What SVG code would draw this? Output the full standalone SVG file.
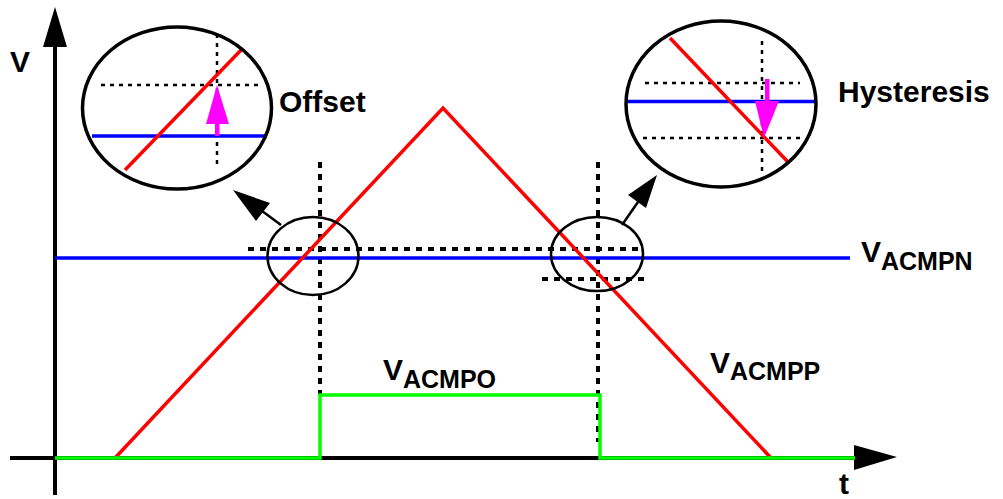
<svg xmlns="http://www.w3.org/2000/svg" width="1003" height="499" viewBox="0 0 1003 499">
<style>
.lbl{font-family:"Liberation Sans",Arial,sans-serif;font-weight:bold;fill:#000}
.big{font-size:30px}
.sub{font-size:25px}
.dot{stroke:#000;stroke-width:4;stroke-dasharray:6 6;fill:none}
.dots{stroke:#000;stroke-width:2.5;stroke-dasharray:4 5;fill:none}
.red{stroke:#ff0000;stroke-width:3.5;fill:none}
.blue{stroke:#0000ff;stroke-width:3.5;fill:none}
.green{stroke:#00ff00;stroke-width:3.5;fill:none}
.circ{stroke:#000;stroke-width:3.5;fill:none}
.ell{stroke:#000;stroke-width:2.5;fill:none}
</style>
<rect width="1003" height="499" fill="#fff"/>
<g id="axes">
<line x1="55" y1="45" x2="55" y2="495" stroke="#000" stroke-width="4"/>
<polygon points="55,7 43,47 67,47" fill="#000"/>
<line x1="10" y1="458" x2="856" y2="458" stroke="#000" stroke-width="4"/>
<polygon points="897,457 854,445 854,470" fill="#000"/>
<text class="lbl big" x="10" y="72">V</text>
<text class="lbl big" x="839" y="494">t</text>
</g>
<g id="guides">
<line class="dot" x1="320" y1="162" x2="320" y2="395"/>
<line class="dot" x1="598" y1="162" x2="598" y2="442"/>
<line class="dot" x1="248" y1="249" x2="644" y2="249"/>
<line class="dot" x1="542" y1="279" x2="646" y2="279"/>
</g>
<g id="signals">
<line class="blue" x1="55" y1="258" x2="850" y2="258"/>
<polyline class="red" points="115,458 443,108 771,458"/>
<polyline class="green" points="55,458 320,458 320,395 600,395 600,458 855,458"/>
</g>
<g id="zoom-left-small">
<ellipse class="ell" cx="313" cy="256" rx="45.5" ry="39"/>
</g>
<g id="zoom-right-small">
<ellipse class="ell" cx="597" cy="254" rx="46" ry="37"/>
</g>
<g id="connectors">
<line x1="281" y1="225" x2="258" y2="208" stroke="#000" stroke-width="2.5"/>
<polygon points="233,190 256,221 270,203" fill="#000"/>
<line x1="622" y1="225" x2="638" y2="202" stroke="#000" stroke-width="2.5"/>
<polygon points="657,175 628,195 646,208" fill="#000"/>
</g>
<g id="offset-detail">
<line class="dots" x1="217" y1="34" x2="217" y2="167"/>
<line class="dots" x1="101" y1="85" x2="258" y2="85"/>
<line class="blue" x1="92" y1="136" x2="265" y2="136"/>
<line class="red" x1="125" y1="170" x2="243" y2="48"/>
<rect x="215" y="122" width="4.5" height="14" fill="#ff00ff"/>
<polygon points="217,85 206,124 229,124" fill="#ff00ff"/>
<ellipse class="circ" cx="177" cy="108" rx="94.5" ry="81"/>
<text class="lbl big" x="279" y="112">Offset</text>
</g>
<g id="hysteresis-detail">
<line class="dots" x1="762" y1="41" x2="762" y2="176"/>
<line class="dots" x1="645" y1="83" x2="800" y2="83"/>
<line class="dots" x1="643" y1="138" x2="800" y2="138"/>
<line class="blue" x1="626" y1="101.5" x2="816" y2="101.5"/>
<line class="red" x1="670" y1="38" x2="788" y2="162"/>
<rect x="765" y="79" width="4.5" height="24" fill="#ff00ff"/>
<polygon points="755,101 779,101 764,138" fill="#ff00ff"/>
<ellipse class="circ" cx="721" cy="104" rx="95" ry="83"/>
<text class="lbl big" x="838" y="102">Hysteresis</text>
</g>
<g id="labels">
<text class="lbl big" x="861" y="262">V<tspan class="sub" dy="8">ACMPN</tspan></text>
<text class="lbl big" x="383" y="380">V<tspan class="sub" dy="8">ACMPO</tspan></text>
<text class="lbl big" x="710" y="373">V<tspan class="sub" dy="7">ACMPP</tspan></text>
</g>
</svg>
